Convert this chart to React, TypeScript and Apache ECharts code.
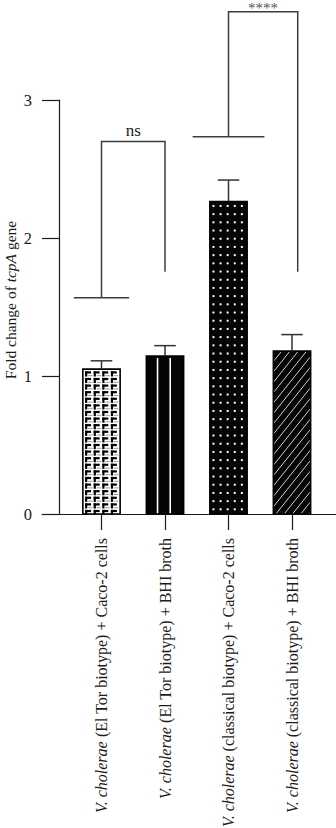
import React, { useEffect, useRef } from "react";
import * as echarts from "echarts";

// Groups on the x axis
const categories = [
  "V. cholerae (El Tor biotype) + Caco-2 cells",
  "V. cholerae (El Tor biotype) + BHI broth",
  "V. cholerae (classical biotype) + Caco-2 cells",
  "V. cholerae (classical biotype) + BHI broth",
];

// Mean fold change of tcpA and the upper error (SD)
const foldChange = [1.05, 1.145, 2.265, 1.18];
const errorUpper = [0.06, 0.075, 0.155, 0.12];

// Fill style of each bar
const fillStyles = ["brick", "stripes", "dots", "hatch"];

// Y axis
const yMin = 0;
const yMax = 3;
const yInterval = 1;

// Significance brackets
const bracketFrom = [0, 2];
const bracketTo = [1, 3];
const bracketTop = [2.7, 3.64];
const bracketLeftEnd = [1.567, 2.734];
const bracketRightEnd = [1.756, 1.756];
const bracketCapWidth = [0.87, 1.13];
const bracketRightShift = [0, 0.09];
const bracketLabels = ["ns", "****"];

const FONT = "'Liberation Serif', 'DejaVu Serif', serif";
const INK = "#1c1c1c";

function categoryLabel(value: string) {
  const genus = "V. cholerae";
  if (value.startsWith(genus)) {
    return "{i|" + genus + "}{n|" + value.slice(genus.length) + "}";
  }
  return "{n|" + value + "}";
}

function renderBar(params: any, api: any) {
  const idx = api.value(0);
  const val = api.value(1);
  const kind = fillStyles[params.dataIndex];
  const top = api.coord([idx, val]);
  const base = api.coord([idx, 0]);
  const cx = top[0];
  const yTop = top[1];
  const yBase = base[1];
  const bw = api.size([1, 0])[0] * 0.587;
  const x0 = cx - bw / 2;
  const x1 = cx + bw / 2;
  const h = yBase - yTop;
  const children: any[] = [];

  children.push({
    type: "rect",
    shape: { x: x0, y: yTop, width: bw, height: h },
    style: { fill: kind === "brick" ? "#ffffff" : "#050505" },
  });

  if (kind === "brick") {
    const stepX = 8.6;
    const stepY = 6.6;
    for (let py = yTop + 2.2; py + 4 < yBase; py += stepY) {
      for (let px = x0 + 2.2; px + 3 < x1; px += stepX) {
        const wTop = Math.min(6, x1 - px);
        children.push({
          type: "rect",
          shape: { x: px, y: py, width: wTop, height: 2.2 },
          style: { fill: "#000" },
        });
        children.push({
          type: "rect",
          shape: { x: px, y: py, width: 2.2, height: Math.min(5.2, yBase - py) },
          style: { fill: "#000" },
        });
        children.push({
          type: "line",
          shape: { x1: px + 3, y1: py + 4.4, x2: Math.min(px + 7.5, x1), y2: py + 4.4 },
          style: { stroke: "#9a9a9a", lineWidth: 1 },
        });
      }
    }
  } else if (kind === "stripes") {
    [0.3, 0.64].forEach((f) => {
      const lx = x0 + bw * f;
      children.push({
        type: "line",
        shape: { x1: lx, y1: yTop + 2, x2: lx, y2: yBase },
        style: { stroke: "#ffffff", lineWidth: 1.6 },
      });
    });
  } else if (kind === "dots") {
    for (let py = yTop + 3.5; py + 2 < yBase; py += 8.2) {
      for (let k = 0; k < 5; k++) {
        const px = x0 + 2.6 + k * 7.1;
        children.push({
          type: "rect",
          shape: { x: px, y: py, width: 2, height: 2 },
          style: { fill: "#ffffff" },
        });
      }
    }
  } else if (kind === "hatch") {
    const slope = 1.25;
    const gap = 8.3;
    for (let c = x0 - h / slope; c < x1; c += gap) {
      const tMin = Math.max(0, (x0 - c) * slope);
      const tMax = Math.min(h, (x1 - c) * slope);
      if (tMax - tMin > 0.5) {
        children.push({
          type: "line",
          shape: {
            x1: c + tMin / slope,
            y1: yBase - tMin,
            x2: c + tMax / slope,
            y2: yBase - tMax,
          },
          style: { stroke: "#d0d0d0", lineWidth: 1 },
        });
      }
    }
  }

  children.push({
    type: "rect",
    shape: { x: x0, y: yTop, width: bw, height: h },
    style: { fill: "none", stroke: "#000", lineWidth: 1.6 },
  });

  return { type: "group", children };
}

function renderError(params: any, api: any) {
  const idx = api.value(0);
  const p0 = api.coord([idx, api.value(1)]);
  const p1 = api.coord([idx, api.value(1) + api.value(2)]);
  const cap = api.size([1, 0])[0] * 0.34;
  return {
    type: "group",
    children: [
      {
        type: "line",
        shape: { x1: p0[0], y1: p0[1], x2: p1[0], y2: p1[1] },
        style: { stroke: "#333", lineWidth: 1.5 },
      },
      {
        type: "line",
        shape: { x1: p1[0] - cap / 2, y1: p1[1], x2: p1[0] + cap / 2, y2: p1[1] },
        style: { stroke: "#333", lineWidth: 1.5 },
      },
    ],
  };
}

function renderBracket(params: any, api: any) {
  const i = params.dataIndex;
  const unit = api.size([1, 0])[0];
  const from = api.value(0);
  const to = api.value(1);
  const yTop = api.coord([from, api.value(2)])[1];
  const yL = api.coord([from, api.value(3)])[1];
  const yR = api.coord([to, api.value(4)])[1];
  const xl = api.coord([from, 0])[0];
  const xr = api.coord([to, 0])[0] + api.value(6) * unit;
  const capHalf = (api.value(5) * unit) / 2;
  const isStars = bracketLabels[i] !== "ns";
  return {
    type: "group",
    children: [
      {
        type: "polyline",
        shape: {
          points: [
            [xl, yL],
            [xl, yTop],
            [xr, yTop],
            [xr, yR],
          ],
        },
        style: { stroke: "#3c3c3c", lineWidth: 1.5, fill: "none" },
      },
      {
        type: "line",
        shape: { x1: xl - capHalf, y1: yL, x2: xl + capHalf, y2: yL },
        style: { stroke: "#3c3c3c", lineWidth: 1.5 },
      },
      {
        type: "text",
        x: (xl + xr) / 2,
        y: isStars ? yTop + 4 : yTop - 2.5,
        style: {
          text: bracketLabels[i],
          fontFamily: FONT,
          fontSize: isStars ? 15 : 17,
          fill: isStars ? "#555" : INK,
          align: "center",
          verticalAlign: "bottom",
        },
      },
    ],
  };
}

export default function App() {
  const ref = useRef<HTMLDivElement>(null);

  useEffect(() => {
    if (!ref.current) return;
    const chart = echarts.init(ref.current, null, { renderer: "svg" });

    const option = {
      animation: false,
      grid: [
        { left: 69.75, right: 12.25, top: 100, bottom: 314, containLabel: false, outerBoundsMode: "none" },
        { left: 42, right: 0, top: 100, bottom: 314, containLabel: false, outerBoundsMode: "none" },
      ],
      xAxis: [
        {
          type: "category",
          gridIndex: 0,
          data: categories,
          axisLine: { show: false },
          axisTick: {
            show: true,
            alignWithLabel: true,
            length: 16,
            lineStyle: { color: INK, width: 1.2 },
          },
          axisLabel: {
            rotate: 90,
            margin: 24,
            interval: 0,
            formatter: categoryLabel,
            rich: {
              i: { fontFamily: FONT, fontSize: 16, fontStyle: "italic", color: INK },
              n: { fontFamily: FONT, fontSize: 16, color: INK },
            },
          },
          splitLine: { show: false },
        },
        {
          type: "value",
          gridIndex: 1,
          min: 0,
          max: 1,
          axisLine: { show: true, lineStyle: { color: INK, width: 1.2 } },
          axisTick: { show: false },
          axisLabel: { show: false },
          splitLine: { show: false },
        },
      ],
      yAxis: [
        {
          type: "value",
          gridIndex: 0,
          min: yMin,
          max: yMax,
          interval: yInterval,
          offset: 10.75,
          axisLine: { show: true, lineStyle: { color: INK, width: 1.2 } },
          axisTick: { show: true, length: 17, lineStyle: { color: INK, width: 1.2 } },
          axisLabel: {
            margin: 27,
            fontFamily: FONT,
            fontSize: 16.5,
            color: INK,
          },
          splitLine: { show: false },
        },
        { type: "value", gridIndex: 1, show: false, min: 0, max: 1 },
      ],
      graphic: [
        {
          type: "text",
          x: 10,
          y: 300,
          rotation: Math.PI / 2,
          style: {
            text: "{n|Fold change of }{i|tcpA}{n| gene}",
            rich: {
              n: { fontFamily: FONT, fontSize: 15.5, fill: INK },
              i: { fontFamily: FONT, fontSize: 15.5, fontStyle: "italic", fill: INK },
            },
            align: "center",
            verticalAlign: "middle",
          },
        },
      ],
      series: [
        {
          type: "custom",
          xAxisIndex: 0,
          yAxisIndex: 0,
          renderItem: renderBar,
          encode: { x: 0, y: 1 },
          data: foldChange.map((v, i) => [i, v]),
          z: 2,
        },
        {
          type: "custom",
          xAxisIndex: 0,
          yAxisIndex: 0,
          renderItem: renderError,
          encode: { x: 0, y: 1 },
          data: foldChange.map((v, i) => [i, v, errorUpper[i]]),
          z: 3,
        },
        {
          type: "custom",
          xAxisIndex: 0,
          yAxisIndex: 0,
          renderItem: renderBracket,
          encode: { x: 0, y: 2 },
          data: bracketFrom.map((f, i) => [
            f,
            bracketTo[i],
            bracketTop[i],
            bracketLeftEnd[i],
            bracketRightEnd[i],
            bracketCapWidth[i],
            bracketRightShift[i],
          ]),
          z: 4,
        },
      ],
    };

    chart.setOption(option as any);
    return () => chart.dispose();
  }, []);

  return (
    <div
      ref={ref}
      style={{ position: "absolute", left: 0, top: 0, width: 336, height: 828, background: "#fff" }}
    />
  );
}
